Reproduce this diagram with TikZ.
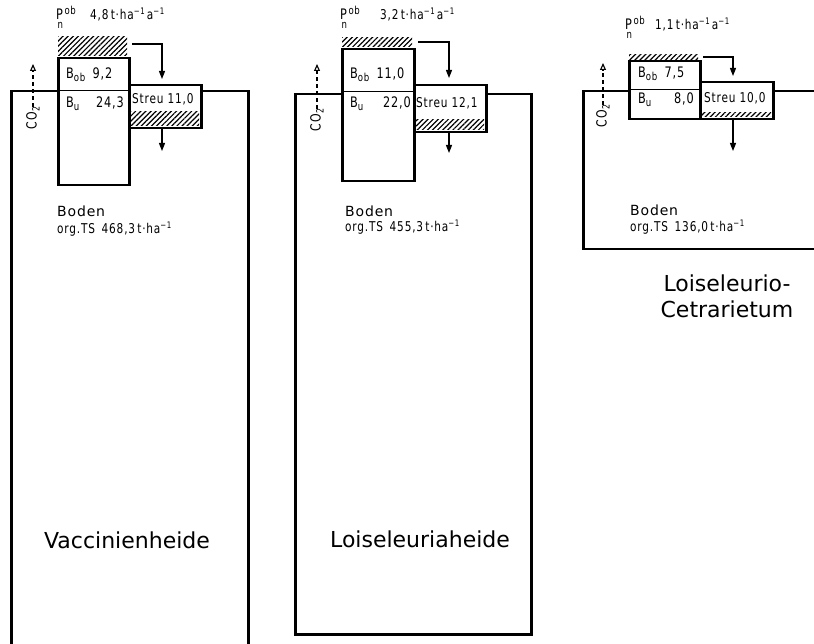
\documentclass[tikz,border=0pt]{standalone}
\usepackage{fontspec}
\setmainfont{DejaVu Sans}
\newfontfamily\narrowf{DejaVu Sans}[FakeStretch=0.78,LetterSpace=6]
\newfontfamily\bodenf{DejaVu Sans}[LetterSpace=6]
\usetikzlibrary{arrows.meta,patterns.meta}
\newcommand{\pnob}{P\llap{\raisebox{-8.5pt}{\fontsize{11}{11}\selectfont n}}\hspace{1.5pt}\raisebox{5pt}{\fontsize{11}{11}\selectfont ob}}
\newcommand{\sumin}{\raisebox{5pt}{\fontsize{9}{9}\selectfont −1}}
\newcommand{\subob}{\raisebox{-2.5pt}{\fontsize{11}{11}\selectfont ob}}
\newcommand{\subu}{\raisebox{-2.5pt}{\fontsize{11}{11}\selectfont u}}
\begin{document}
\begin{tikzpicture}[x=1pt,y=-1pt,
  box/.style={draw, line width=2.5pt, fill=white, rectangle, inner sep=0pt, anchor=north west},
  thin divider/.style={line width=0.9pt},
  hatch/.style={pattern={Lines[angle=45,distance=3.6pt,line width=1.2pt]}},
  flow/.style={line width=1.3pt, -{Triangle[length=8pt,width=6pt]}},
  co2/.style={line width=1.1pt, dash pattern=on 4pt off 3pt, -{Triangle[open,length=7pt,width=6pt]}},
  lbl/.style={anchor=base west, inner sep=0pt, font=\narrowf\fontsize{14.5}{14.5}\selectfont},
  small/.style={anchor=base west, inner sep=0pt, font=\narrowf\fontsize{13.5}{13.5}\selectfont},
  boden/.style={anchor=base west, inner sep=0pt, font=\bodenf\fontsize{14}{14}\selectfont},
  title/.style={anchor=base, inner sep=0pt, font=\fontsize{22}{22}\selectfont},
  co2lbl/.style={rotate=90, inner sep=0pt, font=\narrowf\fontsize{14}{14}\selectfont}
]
\useasboundingbox (0,0) rectangle (814,644);
\clip (0,0) rectangle (814,644);

% ===== Panel 1: Vaccinienheide =====
\node[box, minimum width=237, minimum height=620] (boden1) at (10,90) {};
\node[box, minimum width=71, minimum height=127] (plant1) at (57,57) {};
\node[box, minimum width=72, minimum height=43] (streu1) at (128,84) {};
\draw[thin divider] (57,90) -- (128,90);
\fill[hatch] (58,37) rectangle (127,56);
\fill[hatch] (129,112) rectangle (199,126);
\node[lbl] (pn1) at (56,20) {\pnob};
\node[small] (pv1) at (90,20) {4,8\,t·ha\sumin\,a\sumin};
\node[lbl] (bob1) at (66,79) {B\subob\enspace 9,2};
\node[lbl] (bu1) at (66,108) {B\subu};
\node[lbl, anchor=base east] (buv1) at (124,108) {24,3};
\node[small] (st1) at (132,104) {Streu 11,0};
\node[boden] (bd1) at (57,217) {Boden};
\node[small] (ts1) at (57,234) {org.TS\enspace 468,3\,t·ha\sumin};
\node[title] (t1) at (127,548) {Vaccinienheide};
\node[co2lbl] (c1) at (33,118) {CO\raisebox{-3pt}{\fontsize{10}{10}\selectfont 2}};
\coordinate (c1t) at (33,64);
\draw[co2] (c1.east) -- (c1t);
\coordinate (f1a) at (132,44);
\coordinate (f1b) at (162,79);
\draw[flow] (f1a) -| (f1b);
\coordinate (f1c) at (162,127);
\coordinate (f1d) at (162,151);
\draw[flow] (f1c) -- (f1d);

% ===== Panel 2: Loiseleuriaheide =====
\node[box, minimum width=236, minimum height=540] (boden2) at (294,93) {};
\node[box, minimum width=72, minimum height=132] (plant2) at (341,48) {};
\node[box, minimum width=72, minimum height=47] (streu2) at (413,84) {};
\draw[thin divider] (341,91) -- (413,91);
\fill[hatch] (342,38) rectangle (412,47);
\fill[hatch] (414,120) rectangle (484,130);
\node[lbl] (pn2) at (340,20) {\pnob};
\node[small] (pv2) at (380,20) {3,2\,t·ha\sumin\,a\sumin};
\node[lbl] (bob2) at (350,79) {B\subob\enspace 11,0};
\node[lbl] (bu2) at (350,108) {B\subu};
\node[lbl, anchor=base east] (buv2) at (411,108) {22,0};
\node[small] (st2) at (416,108) {Streu 12,1};
\node[boden] (bd2) at (345,217) {Boden};
\node[small] (ts2) at (345,232) {org.TS\enspace 455,3\,t·ha\sumin};
\node[title] (t2) at (420,547) {Loiseleuriaheide};
\node[co2lbl] (c2) at (317,120) {CO\raisebox{-3pt}{\fontsize{10}{10}\selectfont 2}};
\coordinate (c2t) at (317,64);
\draw[co2] (c2.east) -- (c2t);
\coordinate (f2a) at (418,42);
\coordinate (f2b) at (449,78);
\draw[flow] (f2a) -| (f2b);
\coordinate (f2c) at (449,131);
\coordinate (f2d) at (449,153);
\draw[flow] (f2c) -- (f2d);

% ===== Panel 3: Loiseleurio-Cetrarietum =====
\node[box, minimum width=260, minimum height=158] (boden3) at (582,90) {};
\node[box, minimum width=71, minimum height=58] (plant3) at (628,60) {};
\node[box, minimum width=73, minimum height=37] (streu3) at (699,81) {};
\draw[thin divider] (628,89) -- (699,89);
\fill[hatch] (629,55) rectangle (698,59.5);
\fill[hatch] (700,112.5) rectangle (771,117);
\node[lbl] (pn3) at (625,30) {\pnob};
\node[small] (pv3) at (655,30) {1,1\,t·ha\sumin\,a\sumin};
\node[lbl] (bob3) at (638,78) {B\subob\enspace 7,5};
\node[lbl] (bu3) at (638,104) {B\subu};
\node[lbl, anchor=base east] (buv3) at (694,104) {8,0};
\node[small] (st3) at (704,103) {Streu 10,0};
\node[boden] (bd3) at (630,216) {Boden};
\node[small] (ts3) at (630,232) {org.TS\enspace 136,0\,t·ha\sumin};
\node[title] (t3a) at (727,292) {Loiseleurio-};
\node[title] (t3b) at (727,318) {Cetrarietum};
\node[co2lbl] (c3) at (603,116) {CO\raisebox{-3pt}{\fontsize{10}{10}\selectfont 2}};
\coordinate (c3t) at (603,63);
\draw[co2] (c3.east) -- (c3t);
\coordinate (f3a) at (703,57);
\coordinate (f3b) at (733,76);
\draw[flow] (f3a) -| (f3b);
\coordinate (f3c) at (733,118);
\coordinate (f3d) at (733,151);
\draw[flow] (f3c) -- (f3d);
\end{tikzpicture}
\end{document}
